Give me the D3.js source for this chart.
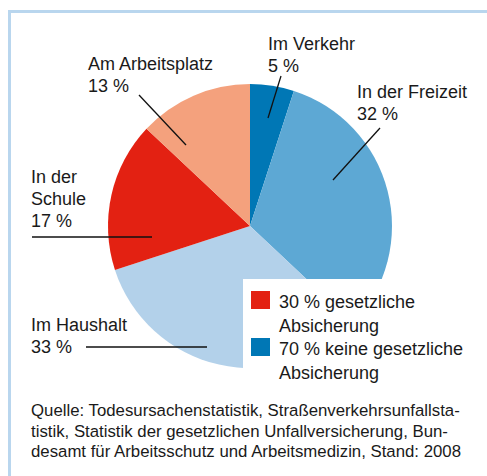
<!DOCTYPE html>
<html><head><meta charset="utf-8">
<script src="https://cdn.jsdelivr.net/npm/d3@7"></script>
<style>
html,body{margin:0;padding:0;background:#fff;}
svg{display:block;font-family:"Liberation Sans",Arial,Helvetica,sans-serif;}
</style></head>
<body>
<svg id="chart" width="487" height="476"></svg>
<script>
// ---- data ----
const categories = ["Im Verkehr", "In der Freizeit", "Im Haushalt", "In der Schule", "Am Arbeitsplatz"];
const values = [5, 32, 33, 17, 13];
const labelLines = [["Im Verkehr", "5 %"], ["In der Freizeit", "32 %"], ["Im Haushalt", "33 %"], ["In der", "Schule", "17 %"], ["Am Arbeitsplatz", "13 %"]];
const legendLabels = [["30 % gesetzliche", "Absicherung"], ["70 % keine gesetzliche", "Absicherung"]];
const sourceLines = [
  "Quelle: Todesursachenstatistik, Straßenverkehrsunfallsta-",
  "tistik, Statistik der gesetzlichen Unfallversicherung, Bun-",
  "desamt für Arbeitsschutz und Arbeitsmedizin, Stand: 2008"
];

// ---- styles / layout ----
const colors = ["#0077b5", "#5da8d4", "#b3d1ea", "#e32112", "#f4a17d"];
const legendColors = ["#e32112", "#0077b5"];
const cx = 250, cy = 226, R = 142;
// label anchor (x, first baseline) and leader line (x1,y1 outside -> x2,y2 inside)
const labelPos = [[268, 50], [357, 98], [31, 331], [31, 183], [88, 70]];
const leaders = [[281, 76, 268, 118], [380, 128, 333, 180], [86, 347, 207, 347], [32, 237, 152, 237], [139, 95, 186, 145]];

const svg = d3.select("#chart");

// frame
svg.append("path")
  .attr("d", "M9.5,476 V11.5 H487")
  .attr("fill", "none").attr("stroke", "#b9d6ee").attr("stroke-width", 3);

const pie = d3.pie().sort(null).value(d => d)(values);
const arc = d3.arc().innerRadius(0).outerRadius(R);

svg.append("g").attr("transform", `translate(${cx},${cy})`)
  .selectAll("path").data(pie).join("path")
  .attr("d", arc).attr("fill", (d, i) => colors[i]);

// legend white box
svg.append("rect").attr("x", 243).attr("y", 279).attr("width", 244).attr("height", 110).attr("fill", "#fff");

// leaders
svg.append("g").selectAll("line").data(leaders).join("line")
  .attr("x1", d => d[0]).attr("y1", d => d[1]).attr("x2", d => d[2]).attr("y2", d => d[3])
  .attr("stroke", "#111").attr("stroke-width", 1.3);

// labels
const lblG = svg.append("g").attr("font-size", 18).attr("fill", "#1a1a1a");
labelLines.forEach((lines, i) => {
  const t = lblG.append("text").attr("x", labelPos[i][0]).attr("y", labelPos[i][1]);
  lines.forEach((s, j) => t.append("tspan").attr("x", labelPos[i][0]).attr("dy", j ? 22 : 0).text(s));
});

// legend
const lg = svg.append("g").attr("font-size", 18).attr("fill", "#1a1a1a");
legendLabels.forEach((lines, i) => {
  const y0 = 291 + i * 47;
  lg.append("rect").attr("x", 251).attr("y", y0).attr("width", 19).attr("height", 18).attr("fill", legendColors[i]);
  const t = lg.append("text").attr("x", 279).attr("y", y0 + 17);
  lines.forEach((s, j) => t.append("tspan").attr("x", 279).attr("dy", j ? 24 : 0).text(s));
});

// source
const sg = svg.append("text").attr("x", 31).attr("y", 416).attr("font-size", 16.8).attr("fill", "#1a1a1a");
sourceLines.forEach((s, j) => sg.append("tspan").attr("x", 31).attr("dy", j ? 20.5 : 0).text(s));
</script>
</body></html>
